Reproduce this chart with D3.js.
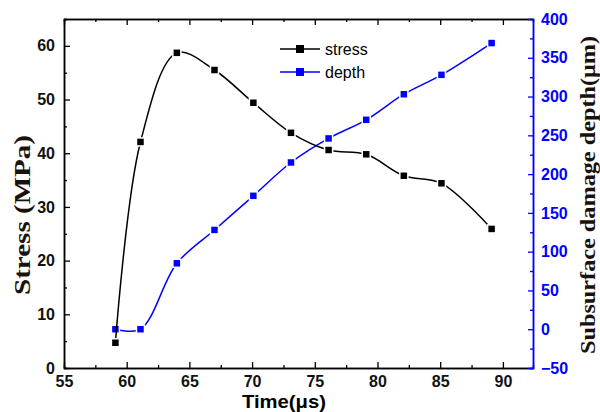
<!DOCTYPE html>
<html>
<head>
<meta charset="utf-8">
<script src="https://cdn.jsdelivr.net/npm/d3@7"></script>
<style>
  body { margin: 0; background: #fff; }
  .tick text { font-family: Arial, "Liberation Sans", sans-serif; font-weight: bold; font-size: 16px; }
</style>
</head>
<body>
<div id="chart"></div>
<script>
// values
var time = [59.1, 61.1, 64.0, 67.0, 70.1, 73.1, 76.1, 79.1, 82.1, 85.1, 89.1];
var stress = [4.7, 42.1, 58.7, 55.5, 49.4, 43.8, 40.6, 39.8, 35.8, 34.4, 25.9];
var depth = [0, 0, 85, 128, 172, 215, 246, 270, 303, 328, 369];
var xTicks = [55, 60, 65, 70, 75, 80, 85, 90];
var stressTicks = [0, 10, 20, 30, 40, 50, 60];
var depthTicks = [-50, 0, 50, 100, 150, 200, 250, 300, 350, 400];
var seriesNames = ["stress", "depth"];

var margin = {top: 19, right: 67, bottom: 44, left: 64},
    width = 600 - margin.left - margin.right,
    height = 412 - margin.top - margin.bottom;

var blue = "#0000ff";

var x = d3.scaleLinear().domain([55, 92.4]).range([0, width]);
var y = d3.scaleLinear().domain([0, 65]).range([height, 0]);
var y2 = d3.scaleLinear().domain([-50, 400]).range([height, 0]);

var svg = d3.select("#chart").append("svg")
    .attr("width", width + margin.left + margin.right)
    .attr("height", height + margin.top + margin.bottom)
  .append("g")
    .attr("transform", "translate(" + margin.left + "," + margin.top + ")");

function minors(ticks, step) {
  var out = [];
  for (var i = 0; i < ticks.length - 1; i++) out.push(ticks[i] + step);
  return out;
}

// minor ticks first, then major ticks with labels
svg.append("g").attr("transform", "translate(0," + height + ")")
    .call(d3.axisBottom(x).tickValues(minors(xTicks, 2.5)).tickSize(-3).tickFormat(""));
svg.append("g").attr("class", "x axis").attr("transform", "translate(0," + height + ")")
    .call(d3.axisBottom(x).tickValues(xTicks).tickSize(-6).tickPadding(8).tickSizeOuter(0));

svg.append("g").call(d3.axisTop(x).tickValues(minors(xTicks, 2.5)).tickSize(-3).tickFormat(""));
svg.append("g").call(d3.axisTop(x).tickValues(xTicks).tickSize(-6).tickFormat("").tickSizeOuter(0));

svg.append("g").call(d3.axisLeft(y).tickValues(minors(stressTicks, 5).concat([65])).tickSize(-3).tickFormat(""));
svg.append("g").attr("class", "y axis")
    .call(d3.axisLeft(y).tickValues(stressTicks).tickSize(-6).tickPadding(9).tickSizeOuter(0));

var right = svg.append("g").attr("transform", "translate(" + width + ",0)");
right.append("g").call(d3.axisRight(y2).tickValues(minors(depthTicks, 25)).tickSize(-3).tickFormat(""));
right.append("g").attr("class", "y2 axis")
    .call(d3.axisRight(y2).tickValues(depthTicks).tickSize(-5).tickPadding(8).tickSizeOuter(0));

svg.selectAll(".domain").attr("stroke-width", 1.5);
svg.selectAll(".tick line").attr("stroke-width", 1.3);
right.selectAll("line, path").attr("stroke", blue);
right.selectAll("text").attr("fill", blue);
svg.selectAll(".x.axis .tick text, .y.axis .tick text").attr("fill", "#111");

var stressData = time.map(function(t, i) { return {t: t, v: stress[i]}; });
var depthData = time.map(function(t, i) { return {t: t, v: depth[i]}; });

var stressLine = d3.line().curve(d3.curveCatmullRom.alpha(0.5))
    .x(function(d) { return x(d.t); })
    .y(function(d) { return y(d.v); });
var depthLine = d3.line().curve(d3.curveCatmullRom.alpha(0.5))
    .x(function(d) { return x(d.t); })
    .y(function(d) { return y2(d.v); });

function drawSeries(data, line, yScale, color) {
  svg.append("path")
      .datum(data)
      .attr("fill", "none")
      .attr("stroke", color)
      .attr("stroke-width", 1.5)
      .attr("d", line);
  svg.selectAll(null)
      .data(data)
    .enter().append("rect")
      .attr("x", function(d) { return x(d.t) - 4; })
      .attr("y", function(d) { return yScale(d.v) - 4; })
      .attr("width", 8)
      .attr("height", 8)
      .attr("fill", color)
      .attr("stroke", "#fff")
      .attr("stroke-width", 1.5);
}

drawSeries(depthData, depthLine, y2, blue);
drawSeries(stressData, stressLine, y, "#000");

// legend
var legend = svg.append("g").attr("transform", "translate(216,30)");
[["#000", 0], [blue, 23]].forEach(function(c, i) {
  var g = legend.append("g").attr("transform", "translate(0," + c[1] + ")");
  g.append("line").attr("x1", 0).attr("x2", 40).attr("stroke", c[0]).attr("stroke-width", 1.5);
  g.append("rect").attr("x", 16).attr("y", -4).attr("width", 8).attr("height", 8).attr("fill", c[0]);
  g.append("text").attr("x", 45).attr("dy", "0.35em")
      .style("font-family", "Arial, 'Liberation Sans', sans-serif").style("font-size", "16px")
      .text(seriesNames[i]);
});

// axis titles
svg.append("text")
    .attr("x", 220)
    .attr("y", height + 40)
    .attr("text-anchor", "middle")
    .attr("textLength", 84)
    .attr("lengthAdjust", "spacingAndGlyphs")
    .style("font-family", "Arial, 'Liberation Sans', sans-serif")
    .style("font-weight", "bold").style("font-size", "19px")
    .text("Time(μs)");

svg.append("text")
    .attr("transform", "translate(-34,196) rotate(-90)")
    .attr("text-anchor", "middle")
    .attr("textLength", 160)
    .attr("lengthAdjust", "spacingAndGlyphs")
    .style("font-family", "'Liberation Serif', 'Times New Roman', serif")
    .style("font-weight", "bold").style("font-size", "23px")
    .attr("fill", "#1a120a")
    .text("Stress (MPa)");

svg.append("text")
    .attr("transform", "translate(" + (width + 62) + ",176) rotate(-90)")
    .attr("text-anchor", "middle")
    .attr("textLength", 318)
    .attr("lengthAdjust", "spacingAndGlyphs")
    .style("font-family", "'Liberation Serif', 'Times New Roman', serif")
    .style("font-weight", "bold").style("font-size", "21px")
    .attr("fill", "#1a120a")
    .text("Subsurface damage depth(μm)");
</script>
</body>
</html>
